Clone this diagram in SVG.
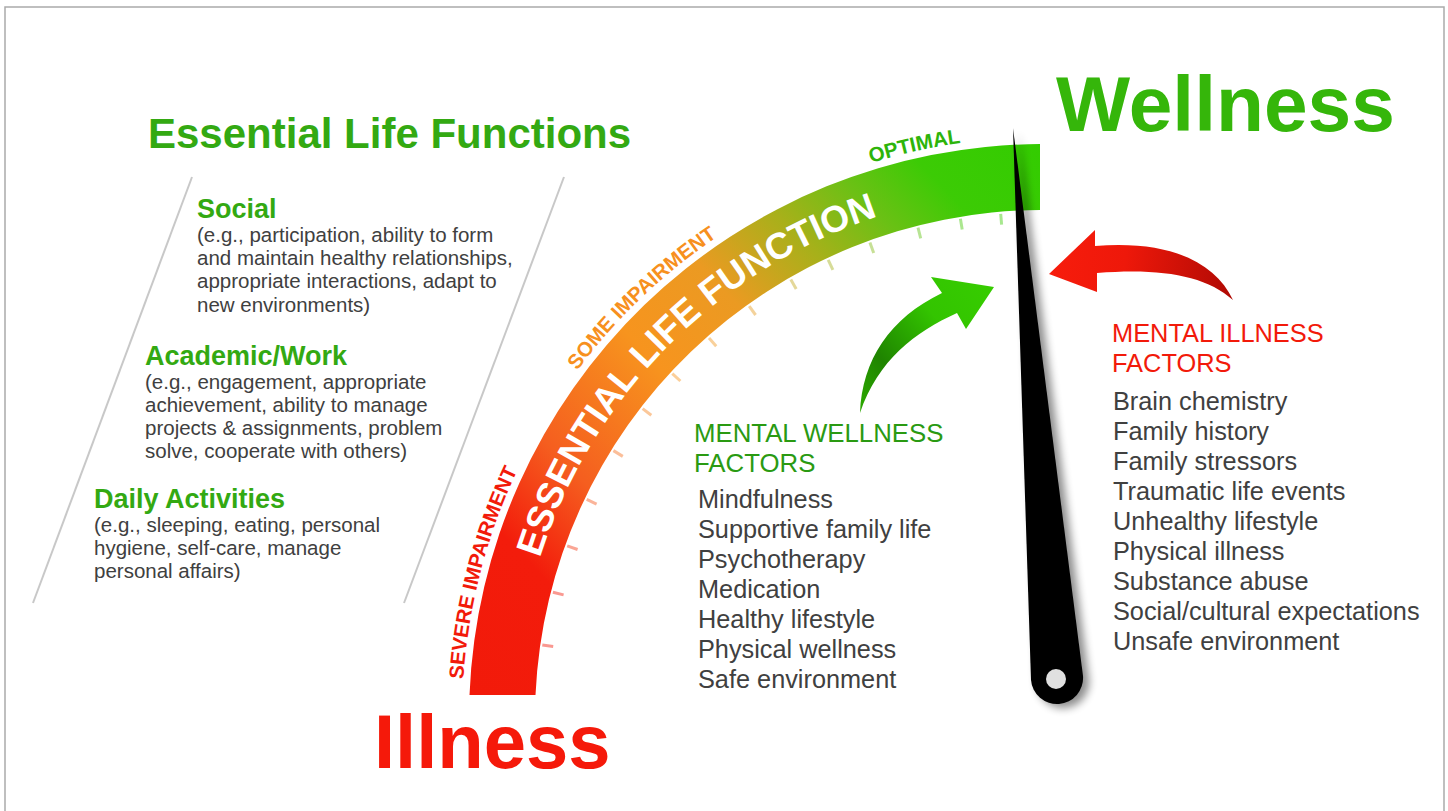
<svg xmlns="http://www.w3.org/2000/svg" xmlns:xlink="http://www.w3.org/1999/xlink" width="1448" height="811" viewBox="0 0 1448 811">
<defs>
<style>
text{font-family:"Liberation Sans",Arial,Helvetica,sans-serif}
.b{font-weight:bold}
.hd{font-size:27px;font-weight:bold;fill:#33a912}
.bd{font-size:20.5px;fill:#404040}
.li{font-size:25.3px;fill:#404040}
.arc{font-size:20.5px;font-weight:bold}
.tick{stroke:url(#bandGrad);stroke-width:3;stroke-opacity:0.45;fill:none}
.div{stroke:#c8c8c8;stroke-width:2}
</style>
<linearGradient id="bandGrad" gradientUnits="userSpaceOnUse" x1="470" y1="695" x2="1040" y2="145">
<stop offset="0" stop-color="#f21a0a"/>
<stop offset="0.17" stop-color="#f31c0b"/>
<stop offset="0.29" stop-color="#f55e1f"/>
<stop offset="0.46" stop-color="#f7941e"/>
<stop offset="0.585" stop-color="#eb9a22"/>
<stop offset="0.70" stop-color="#a8b01a"/>
<stop offset="0.79" stop-color="#6cc015"/>
<stop offset="0.875" stop-color="#3ccb05"/>
<stop offset="1" stop-color="#33cc00"/>
</linearGradient>
<linearGradient id="greenGrad" gradientUnits="userSpaceOnUse" x1="860" y1="400" x2="990" y2="290">
<stop offset="0" stop-color="#2aa500"/>
<stop offset="0.25" stop-color="#1f8400"/>
<stop offset="0.65" stop-color="#33c400"/>
<stop offset="1" stop-color="#36cc00"/>
</linearGradient>
<linearGradient id="redGrad" gradientUnits="userSpaceOnUse" x1="1050" y1="270" x2="1233" y2="290">
<stop offset="0" stop-color="#f71c0c"/>
<stop offset="0.4" stop-color="#ee180a"/>
<stop offset="1" stop-color="#b00a04"/>
</linearGradient>
<filter id="shadow" x="-50%" y="-10%" width="200%" height="120%">
<feGaussianBlur in="SourceAlpha" stdDeviation="4"/>
<feOffset dx="6" dy="4" result="o"/>
<feComponentTransfer><feFuncA type="linear" slope="0.45"/></feComponentTransfer>
<feMerge><feMergeNode/><feMergeNode in="SourceGraphic"/></feMerge>
</filter>
<path id="p528" d="M 515 718 A 528 528 0 0 1 1043 190"/>
<path id="p581" d="M 462 718 A 581 581 0 0 1 1043 137"/>
</defs>
<rect width="1448" height="811" fill="#ffffff"/>
<path d="M5 811 L5 7 L1444 7 L1444 811" fill="none" stroke="#aaaaaa" stroke-width="1.5"/>

<g id="title">
<text x="148" y="148" class="b" font-size="42" fill="#33a912">Essential Life Functions</text>
</g>

<g id="dividers">
<line class="div" x1="192" y1="177" x2="33" y2="603"/>
<line class="div" x1="564" y1="177" x2="404" y2="603"/>
</g>

<g id="social">
<text x="197" y="218" class="hd">Social</text>
<text class="bd"><tspan x="197" y="242">(e.g., participation, ability to form</tspan><tspan x="197" y="265">and maintain healthy relationships,</tspan><tspan x="197" y="288">appropriate interactions, adapt to</tspan><tspan x="197" y="311.5">new environments)</tspan></text>
</g>
<g id="academic">
<text x="145" y="365" class="hd">Academic/Work</text>
<text class="bd"><tspan x="145" y="388.5">(e.g., engagement, appropriate</tspan><tspan x="145" y="411.5">achievement, ability to manage</tspan><tspan x="145" y="435">projects &amp; assignments, problem</tspan><tspan x="145" y="458">solve, cooperate with others)</tspan></text>
</g>
<g id="daily">
<text x="94" y="508" class="hd">Daily Activities</text>
<text class="bd"><tspan x="94" y="532">(e.g., sleeping, eating, personal</tspan><tspan x="94" y="555">hygiene, self-care, manage</tspan><tspan x="94" y="578">personal affairs)</tspan></text>
</g>

<g id="gauge-band">
<path d="M 469.5 695 A 574 574 0 0 1 1040 144 L 1040 210 A 508 508 0 0 0 535.5 695 Z" fill="url(#bandGrad)"/>
<g id="ticks">
<line class="tick" x1="553.2" y1="646.5" x2="542.3" y2="645.0"/>
<line class="tick" x1="563.6" y1="594.9" x2="552.9" y2="592.2"/>
<line class="tick" x1="577.6" y1="549.5" x2="567.2" y2="545.8"/>
<line class="tick" x1="596.6" y1="504.1" x2="586.7" y2="499.4"/>
<line class="tick" x1="622.8" y1="456.4" x2="613.4" y2="450.6"/>
<line class="tick" x1="651.3" y1="415.3" x2="642.6" y2="408.6"/>
<line class="tick" x1="680.4" y1="381.0" x2="672.3" y2="373.6"/>
<line class="tick" x1="716.2" y1="346.2" x2="709.0" y2="337.9"/>
<line class="tick" x1="755.6" y1="315.0" x2="749.2" y2="306.1"/>
<line class="tick" x1="796.2" y1="288.9" x2="790.8" y2="279.4"/>
<line class="tick" x1="832.9" y1="269.8" x2="828.2" y2="259.8"/>
<line class="tick" x1="873.7" y1="252.9" x2="869.9" y2="242.5"/>
<line class="tick" x1="920.7" y1="238.3" x2="918.0" y2="227.7"/>
<line class="tick" x1="962.2" y1="229.6" x2="960.4" y2="218.8"/>
<line class="tick" x1="1001.6" y1="224.7" x2="1000.7" y2="213.8"/>
</g>
<text class="b" font-size="37" fill="#ffffff"><textPath xlink:href="#p528" href="#p528" startOffset="412" text-anchor="middle">ESSENTIAL LIFE FUNCTION</textPath></text>
<text class="arc" fill="#f21a0a"><textPath xlink:href="#p581" href="#p581" startOffset="147.5" text-anchor="middle">SEVERE IMPAIRMENT</textPath></text>
<text class="arc" fill="#f7901e"><textPath xlink:href="#p581" href="#p581" startOffset="469.5" text-anchor="middle">SOME IMPAIRMENT</textPath></text>
<text class="arc" fill="#2db40a"><textPath xlink:href="#p581" href="#p581" startOffset="784" text-anchor="middle">OPTIMAL</textPath></text>
</g>

<g id="wellness-label">
<text x="1056" y="131" class="b" font-size="78.5" fill="#35b60a">Wellness</text>
</g>
<g id="illness-label">
<text x="374" y="768" class="b" font-size="76" fill="#f5190a">Illness</text>
</g>

<g id="connectors">
<path id="wellness-arrow" d="M 860 413 C 862 360, 890 318, 942 293 L 931 277 L 994 287 L 966 329 L 957 313 C 915 332, 878 360, 860 413 Z" fill="url(#greenGrad)"/>
<path id="illness-arrow" d="M 1233 300 C 1215 262, 1170 240, 1095 246 L 1095 230 L 1049 274 L 1097 292 L 1097 273 C 1160 268, 1205 275, 1233 300 Z" fill="url(#redGrad)"/>
</g>

<g id="needle">
<path d="M 1013 128 L 1031 680 A 26 26 0 1 0 1083 676 Z" fill="#000000" filter="url(#shadow)"/>
<circle cx="1056" cy="679" r="10" fill="#e0e0e0"/>
</g>

<g id="wellness-factors">
<text font-size="25.8" fill="#2a9a12"><tspan x="694" y="442">MENTAL WELLNESS</tspan><tspan x="694" y="472">FACTORS</tspan></text>
<text class="li"><tspan x="698" y="508">Mindfulness</tspan><tspan x="698" y="538">Supportive family life</tspan><tspan x="698" y="568">Psychotherapy</tspan><tspan x="698" y="598">Medication</tspan><tspan x="698" y="628">Healthy lifestyle</tspan><tspan x="698" y="658">Physical wellness</tspan><tspan x="698" y="688">Safe environment</tspan></text>
</g>

<g id="illness-factors">
<text font-size="25.4" fill="#f21a0a"><tspan x="1112" y="342">MENTAL ILLNESS</tspan><tspan x="1112" y="372">FACTORS</tspan></text>
<text class="li"><tspan x="1113" y="410">Brain chemistry</tspan><tspan x="1113" y="440">Family history</tspan><tspan x="1113" y="470">Family stressors</tspan><tspan x="1113" y="500">Traumatic life events</tspan><tspan x="1113" y="530">Unhealthy lifestyle</tspan><tspan x="1113" y="560">Physical illness</tspan><tspan x="1113" y="590">Substance abuse</tspan><tspan x="1113" y="620">Social/cultural expectations</tspan><tspan x="1113" y="650">Unsafe environment</tspan></text>
</g>
</svg>
